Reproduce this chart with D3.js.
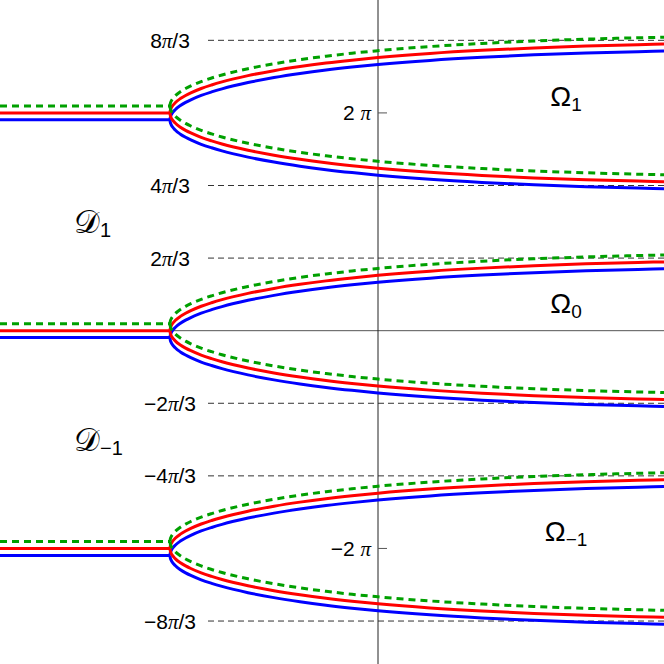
<!DOCTYPE html>
<html>
<head>
<meta charset="utf-8">
<script src="https://cdn.jsdelivr.net/npm/d3@7"></script>
<style>
  html, body { margin: 0; padding: 0; background: #fff; }
  svg { display: block; }
  text { font-family: 'Liberation Sans', Arial, sans-serif; fill: #000; }
</style>
</head>
<body>
<svg id="canvas" width="664" height="664"></svg>
<script>
let PI = Math.PI

// branch point and the opening of each branch (distance from its centre line)
let branchX = [-4, -3.995, -3.98, -3.95, -3.9, -3.8, -3.7, -3.6, -3.4, -3.2, -3, -2.5, -2, -1.5, -1, -0.5, 0, 1, 2, 3, 4, 5, 5.5]
let branchW = [0, 0.066, 0.131, 0.207, 0.293, 0.413, 0.503, 0.578, 0.705, 0.806, 0.895, 1.076, 1.219, 1.337, 1.437, 1.522, 1.596, 1.715, 1.805, 1.875, 1.928, 1.968, 1.985]

// centre line of each band (k = 1, 0, -1)
let centres = [2 * PI, 0, -2 * PI]

// three curves, read as vertical shifts of the same shape
let seriesNames = ['blue', 'red', 'green']
let seriesShift = [-0.2, 0, 0.2]
let seriesColor = ['#0000ff', '#ff0000', '#00a000']
let seriesDash = [null, null, '7,5']

// dashed reference levels with their labels
let gridVals = [8 * PI / 3, 4 * PI / 3, 2 * PI / 3, -2 * PI / 3, -4 * PI / 3, -8 * PI / 3]
let gridNum = ['8', '4', '2', '\u22122', '\u22124', '\u22128']

// ticks on the vertical axis
let tickVals = [2 * PI, -2 * PI]
let tickNum = ['2', '\u22122']

// region labels
let omegaIdx = ['1', '0', '\u22121']
let omegaLevel = [2 * PI, 0, -2 * PI]
let omegaLift = [7, 18, 7]
let domainIdx = ['1', '\u22121']
let domainLevel = [PI, -PI]

let W = 664, H = 664
let svg = d3.select('#canvas')

let x = d3.scaleLinear().domain([-378 / 52, 286 / 52]).range([0, W])
let y = d3.scaleLinear().domain([-9.617, 9.541]).range([H, 0])

// dashed levels
let labelX = x(branchX[0])
svg.selectAll('.grid')
    .data(gridVals)
    .enter()
    .append('line')
    .attr('class', 'grid')
    .attr('x1', labelX + 38)
    .attr('x2', W)
    .attr('y1', d => y(d))
    .attr('y2', d => y(d))
    .attr('stroke', '#333')
    .attr('stroke-width', 1)
    .attr('stroke-dasharray', '6,4')

let gl = svg.selectAll('.glab')
    .data(gridVals)
    .enter()
    .append('text')
    .attr('class', 'glab')
    .attr('x', labelX)
    .attr('y', d => y(d) + 7.5)
    .attr('text-anchor', 'middle')
    .attr('font-size', 21)
gl.append('tspan').text((d, i) => gridNum[i])
gl.append('tspan').text('\u03c0').attr('font-family', 'Liberation Serif').attr('font-style', 'italic')
gl.append('tspan').text('/3')

// axes
svg.append('line')
    .attr('x1', 0).attr('x2', W)
    .attr('y1', y(0)).attr('y2', y(0))
    .attr('stroke', '#555').attr('stroke-width', 1)
svg.append('line')
    .attr('x1', x(0)).attr('x2', x(0))
    .attr('y1', 0).attr('y2', H)
    .attr('stroke', '#222').attr('stroke-width', 1)

svg.selectAll('.tick')
    .data(tickVals)
    .enter()
    .append('line')
    .attr('x1', x(0)).attr('x2', x(0) + 9)
    .attr('y1', d => y(d)).attr('y2', d => y(d))
    .attr('stroke', '#555').attr('stroke-width', 1)

let tl = svg.selectAll('.tlab')
    .data(tickVals)
    .enter()
    .append('text')
    .attr('x', x(0) - 7)
    .attr('y', d => y(d) + 7.5)
    .attr('text-anchor', 'end')
    .attr('font-size', 21)
tl.append('tspan').text((d, i) => tickNum[i] + ' ')
tl.append('tspan').text('\u03c0').attr('font-family', 'Liberation Serif').attr('font-style', 'italic')

// curves
let line = d3.line()
    .x(d => x(d[0]))
    .y(d => y(d[1]))
    .curve(d3.curveMonotoneX)

seriesNames.forEach((name, s) => {
    let g = svg.append('g').attr('class', 'series-' + name)
    centres.forEach(c => {
        let base = c + seriesShift[s]
        let flat = [[x.domain()[0], base], [branchX[0], base]]
        let up = branchX.map((bx, i) => [bx, base + branchW[i]])
        let down = branchX.map((bx, i) => [bx, base - branchW[i]])
        ;[flat, up, down].forEach(pts => {
            g.append('path')
                .attr('d', line(pts))
                .attr('fill', 'none')
                .attr('stroke', seriesColor[s])
                .attr('stroke-width', 3)
                .attr('stroke-dasharray', seriesDash[s])
        })
    })
})

// region labels
let om = svg.selectAll('.omega')
    .data(omegaIdx)
    .enter()
    .append('text')
    .attr('x', 566)
    .attr('y', (d, i) => y(omegaLevel[i]) - omegaLift[i])
    .attr('text-anchor', 'middle')
    .attr('font-size', 28)
om.append('tspan').text('\u03a9')
om.append('tspan').text(d => d).attr('font-size', 19).attr('dy', 5)

let dl = svg.selectAll('.dom')
    .data(domainIdx)
    .enter()
    .append('text')
    .attr('x', 74)
    .attr('y', (d, i) => y(domainLevel[i]) + 11)
    .attr('font-size', 32)
dl.append('tspan').text('\ud835\udc9f').attr('font-family', 'DejaVu Serif, DejaVu Sans, serif')
dl.append('tspan').text(d => d).attr('font-size', 20).attr('dy', 4)
</script>
</body>
</html>
